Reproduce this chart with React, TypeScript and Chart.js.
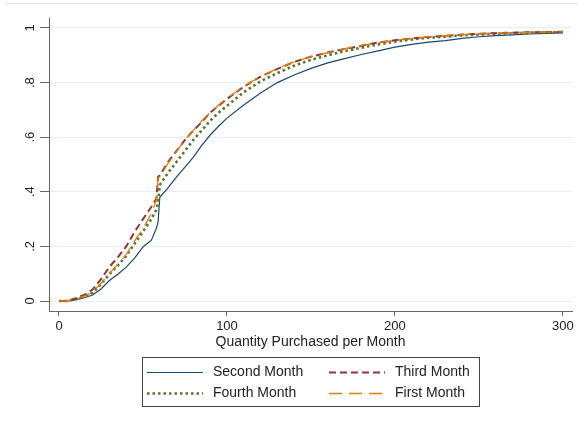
import { useEffect, useRef } from 'react';
import { Chart, registerables } from 'chart.js';

Chart.register(...registerables);

// ---- data ----
const quantity = [0, 5, 10, 15, 20, 25, 30, 35, 40, 45, 50, 55, 58, 59, 60, 65, 70, 75, 80, 85, 90, 95, 100, 110, 120, 130, 140, 150, 160, 170, 180, 190, 200, 210, 220, 230, 240, 250, 260, 270, 280, 290, 300];

const secondMonth = [0, 0, 0.004, 0.012, 0.022, 0.044, 0.075, 0.098, 0.124, 0.157, 0.198, 0.223, 0.267, 0.29, 0.38, 0.415, 0.455, 0.49, 0.527, 0.57, 0.608, 0.64, 0.67, 0.718, 0.762, 0.8, 0.828, 0.852, 0.872, 0.888, 0.903, 0.916, 0.93, 0.94, 0.948, 0.954, 0.962, 0.968, 0.972, 0.975, 0.978, 0.98, 0.982];

const thirdMonth = [0, 0, 0.01, 0.022, 0.042, 0.08, 0.125, 0.16, 0.2, 0.253, 0.3, 0.345, 0.375, 0.455, 0.46, 0.51, 0.55, 0.59, 0.625, 0.655, 0.69, 0.715, 0.74, 0.785, 0.822, 0.85, 0.876, 0.895, 0.91, 0.923, 0.935, 0.947, 0.955, 0.962, 0.967, 0.971, 0.976, 0.979, 0.981, 0.983, 0.984, 0.985, 0.986];

const fourthMonth = [0, 0, 0.007, 0.016, 0.03, 0.062, 0.098, 0.13, 0.165, 0.21, 0.255, 0.3, 0.335, 0.36, 0.425, 0.47, 0.51, 0.55, 0.59, 0.625, 0.66, 0.69, 0.715, 0.765, 0.805, 0.835, 0.862, 0.883, 0.9, 0.915, 0.928, 0.94, 0.95, 0.958, 0.964, 0.968, 0.973, 0.976, 0.979, 0.981, 0.983, 0.984, 0.985];

const firstMonth = [0, 0, 0.008, 0.018, 0.032, 0.065, 0.1, 0.135, 0.17, 0.22, 0.265, 0.32, 0.37, 0.45, 0.455, 0.505, 0.548, 0.59, 0.625, 0.66, 0.69, 0.718, 0.742, 0.787, 0.822, 0.852, 0.876, 0.895, 0.91, 0.924, 0.936, 0.946, 0.955, 0.962, 0.968, 0.972, 0.976, 0.979, 0.981, 0.983, 0.984, 0.985, 0.986];

const seriesNames = ['Second Month', 'Third Month', 'Fourth Month', 'First Month'];
const yTickValues = [0, 0.2, 0.4, 0.6, 0.8, 1];
const yTickLabels = ['0', '.2', '.4', '.6', '.8', '1'];
const xTickValues = [0, 100, 200, 300];
const xTickLabels = ['0', '100', '200', '300'];
const xTitle = 'Quantity Purchased per Month';

const FONT = '"Liberation Sans", Arial, Helvetica, sans-serif';

const toPoints = (ys: number[]) => quantity.map((q, i) => ({ x: q, y: ys[i] }));

const frameLine = {
  id: 'frameLine',
  beforeDraw(chart: any) {
    const ctx = chart.ctx;
    ctx.save();
    ctx.strokeStyle = '#e4e4e4';
    ctx.lineWidth = 1;
    ctx.beginPath();
    ctx.moveTo(5, 3.5);
    ctx.lineTo(578, 3.5);
    ctx.stroke();
    ctx.restore();
  },
};

const boxLegend = {
  id: 'boxLegend',
  afterDraw(chart: any) {
    const ctx = chart.ctx;
    ctx.save();
    ctx.strokeStyle = '#444';
    ctx.lineWidth = 1;
    ctx.setLineDash([]);
    ctx.strokeRect(142.5, 357.5, 337, 49);
    const cols = [147, 329];
    const rows = [372, 393];
    chart.data.datasets.forEach((ds: any, i: number) => {
      const x0 = cols[i % 2];
      const y = rows[Math.floor(i / 2)];
      ctx.strokeStyle = ds.borderColor;
      ctx.lineWidth = ds.borderWidth;
      ctx.lineCap = 'butt';
      ctx.setLineDash(ds.borderDash || []);
      ctx.beginPath();
      ctx.moveTo(x0, y + 0.5);
      ctx.lineTo(x0 + 56, y + 0.5);
      ctx.stroke();
      ctx.setLineDash([]);
      ctx.fillStyle = '#222';
      ctx.font = `14px ${FONT}`;
      ctx.textBaseline = 'middle';
      ctx.textAlign = 'left';
      ctx.fillText(ds.label, x0 + 66, y);
    });
    ctx.restore();
  },
};

export default function App() {
  const ref = useRef<HTMLCanvasElement | null>(null);

  useEffect(() => {
    if (!ref.current) return;
    const chart = new Chart(ref.current, {
      type: 'line',
      data: {
        datasets: [
          {
            label: seriesNames[0],
            data: toPoints(secondMonth),
            borderColor: '#1a476f',
            borderWidth: 1.2,
            pointRadius: 0,
            order: 3,
          },
          {
            label: seriesNames[1],
            data: toPoints(thirdMonth),
            borderColor: '#90353b',
            borderWidth: 2,
            borderDash: [7, 4],
            pointRadius: 0,
            order: 1,
          },
          {
            label: seriesNames[2],
            data: toPoints(fourthMonth),
            borderColor: '#55752f',
            borderWidth: 2.6,
            borderDash: [2.5, 3],
            pointRadius: 0,
            order: 2,
          },
          {
            label: seriesNames[3],
            data: toPoints(firstMonth),
            borderColor: '#e37e00',
            borderWidth: 1.3,
            borderDash: [13, 7],
            pointRadius: 0,
            order: 0,
          },
        ],
      },
      options: {
        animation: false,
        responsive: false,
        layout: { padding: { left: 0, right: 6, top: 18, bottom: 74 } },
        plugins: {
          legend: { display: false },
          tooltip: { enabled: false },
        },
        elements: { line: { tension: 0, fill: false } },
        scales: {
          x: {
            type: 'linear',
            min: -5.95,
            max: 305.4,
            afterBuildTicks: (s: any) => {
              s.ticks = xTickValues.map((v) => ({ value: v }));
            },
            afterFit: (s: any) => {
              s.height = 40;
            },
            grid: { drawOnChartArea: false, drawTicks: true, tickLength: 5, tickColor: '#666', tickWidth: 1 },
            border: { color: '#666', width: 1 },
            ticks: {
              autoSkip: false,
              maxRotation: 0,
              padding: 3,
              color: '#222',
              font: { size: 13, family: FONT },
              callback: (v: any) => {
                const i = xTickValues.findIndex((t) => Math.abs(t - v) < 1e-9);
                return i >= 0 ? xTickLabels[i] : '';
              },
            },
            title: {
              display: true,
              text: xTitle,
              color: '#222',
              font: { size: 14, family: FONT },
              padding: { top: 0, bottom: 0 },
            },
          },
          y: {
            type: 'linear',
            min: -0.0366,
            max: 1.0366,
            afterBuildTicks: (s: any) => {
              s.ticks = yTickValues.map((v) => ({ value: v }));
            },
            afterFit: (s: any) => {
              s.width = 49;
            },
            grid: { color: '#e6eef0', lineWidth: 1, tickLength: 9, tickColor: '#666', tickWidth: 1 },
            border: { color: '#666', width: 1 },
            ticks: {
              autoSkip: false,
              minRotation: 90,
              maxRotation: 90,
              crossAlign: 'center',
              padding: 4,
              color: '#222',
              font: { size: 13, family: FONT },
              callback: (v: any) => {
                const i = yTickValues.findIndex((t) => Math.abs(t - v) < 1e-9);
                return i >= 0 ? yTickLabels[i] : '';
              },
            },
          },
        },
      },
      plugins: [frameLine, boxLegend],
    });
    return () => chart.destroy();
  }, []);

  return (
    <div style={{ position: 'absolute', left: 0, top: 0, width: 578, height: 425, background: '#fff' }}>
      <canvas ref={ref} width={578} height={425} style={{ display: 'block' }} />
    </div>
  );
}
